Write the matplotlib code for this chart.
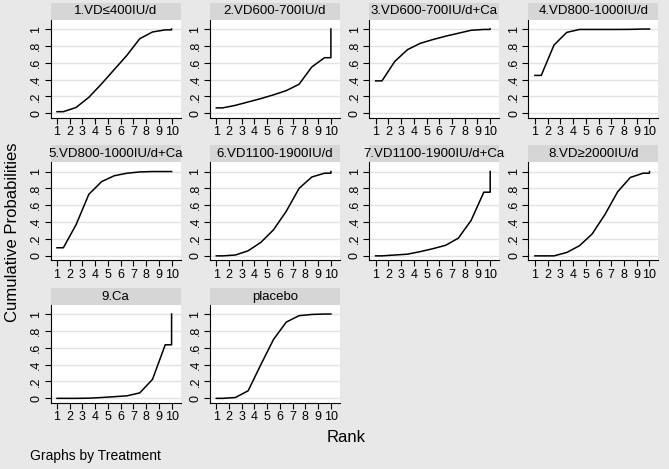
import matplotlib
matplotlib.use("Agg")
import matplotlib.pyplot as plt
from matplotlib.patches import Rectangle

plt.rcParams['font.family'] = ['Liberation Sans', 'DejaVu Sans']

# Cumulative ranking probabilities, rank 1..10
ranks = list(range(1, 11))
vd400 = [0.02, 0.07, 0.19, 0.35, 0.52, 0.69, 0.885, 0.965, 0.99, 1.0]
vd600 = [0.065, 0.095, 0.135, 0.175, 0.22, 0.27, 0.345, 0.55, 0.66, 1.0]
vd600_ca = [0.385, 0.615, 0.755, 0.83, 0.875, 0.915, 0.95, 0.985, 0.995, 1.0]
vd800 = [0.45, 0.81, 0.96, 0.995, 0.995, 0.995, 0.995, 0.996, 1.0, 1.0]
vd800_ca = [0.096, 0.37, 0.73, 0.88, 0.95, 0.98, 0.995, 1.0, 1.0, 1.0]
vd1100 = [0.0, 0.01, 0.06, 0.16, 0.31, 0.53, 0.80, 0.935, 0.98, 1.0]
vd1100_ca = [0.0, 0.01, 0.02, 0.05, 0.085, 0.125, 0.21, 0.42, 0.755, 1.0]
vd2000 = [0.0, 0.0, 0.04, 0.12, 0.26, 0.49, 0.76, 0.93, 0.98, 1.0]
ca = [0.0, 0.0, 0.002, 0.01, 0.02, 0.03, 0.065, 0.225, 0.635, 1.0]
placebo = [0.0, 0.01, 0.09, 0.40, 0.70, 0.905, 0.98, 0.995, 1.0, 1.0]

treatments = ['1.VD≤400IU/d', '2.VD600-700IU/d', '3.VD600-700IU/d+Ca',
              '4.VD800-1000IU/d', '5.VD800-1000IU/d+Ca', '6.VD1100-1900IU/d',
              '7.VD1100-1900IU/d+Ca', '8.VD≥2000IU/d', '9.Ca', 'placebo']
series = [vd400, vd600, vd600_ca, vd800, vd800_ca, vd1100,
          vd1100_ca, vd2000, ca, placebo]

yticks = [0, 0.2, 0.4, 0.6, 0.8, 1]
ytick_labels = ['0', '.2', '.4', '.6', '.8', '1']

W, H = 669, 469
bg = '#e8e8e8'
fig = plt.figure(figsize=(W / 100, H / 100), dpi=100, facecolor=bg)

for i, (name, c) in enumerate(zip(treatments, series)):
    row, col = divmod(i, 4)
    left = 50.5 + 159.3 * col
    top = 20 + 142.5 * row
    ax = fig.add_axes([left / W, 1 - (top + 98) / H, 130 / W, 98 / H])
    ax.set_facecolor('white')

    # stair-like connection: flat start, points at rank midpoints, jump at end
    xs = [ranks[0]] + [r + 0.5 for r in ranks[:-1]] + [ranks[-1], ranks[-1]]
    ys = [c[0]] + c[:-1] + [c[-2], c[-1]]
    ax.plot(xs, ys, color='black', lw=1.1)

    ax.set_xlim(0.49, 10.7)
    ax.set_ylim(-0.055, 1.107)
    ax.set_yticks(yticks)
    ax.set_yticklabels(ytick_labels, rotation=90, va='center')
    ax.set_xticks(ranks)
    ax.grid(axis='y', color='#e3e3e3', lw=1)
    ax.set_axisbelow(True)
    for s in ['top', 'right']:
        ax.spines[s].set_visible(False)
    for s in ['left', 'bottom']:
        ax.spines[s].set_linewidth(0.8)
    ax.tick_params(labelsize=9, length=4, width=0.8, pad=2)

    # title strip
    ax.add_patch(Rectangle((0, 1), 1, 17 / 98, transform=ax.transAxes,
                           facecolor='#d6d6d6', edgecolor='none', clip_on=False))
    ax.text(0.5, 1 + 8.5 / 98, name, transform=ax.transAxes, ha='center',
            va='center', fontsize=9.5)

fig.text(13 / W, 1 - 232 / H, 'Cumulative Probabilities', rotation=90,
         ha='center', va='center', fontsize=12)
fig.text(346 / W, 1 - 437 / H, 'Rank', ha='center', va='center', fontsize=12)
fig.text(30 / W, 1 - 456 / H, 'Graphs by Treatment', ha='left', va='center',
         fontsize=10)

fig.savefig('out.png', dpi=100, facecolor=bg)
